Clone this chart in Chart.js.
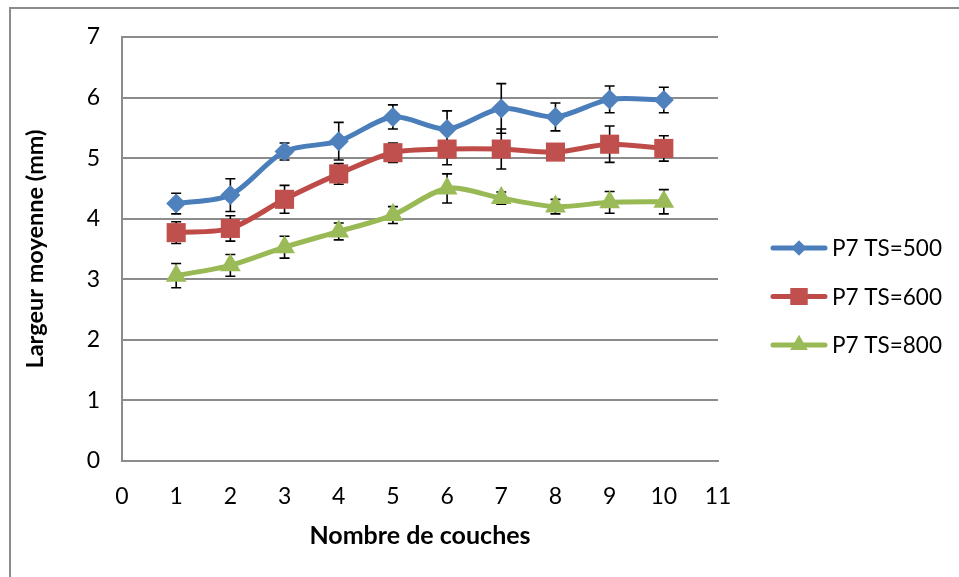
<!DOCTYPE html>
<html>
<head>
<meta charset="utf-8">
<script src="https://cdn.jsdelivr.net/npm/chart.js@4.4.1/dist/chart.umd.min.js"></script>
<style>
  html, body { margin: 0; padding: 0; background: #fff; overflow: hidden; }
  #wrap { position: relative; width: 959px; height: 577px; }
  #frame { position: absolute; left: 9px; top: 7px; width: 960px; height: 590px;
           border-left: 2px solid #8c8c8c; border-top: 2px solid #8c8c8c; pointer-events: none; }
  canvas { position: absolute; left: 0; top: 0; }
</style>
</head>
<body>
<div id="wrap">
  <canvas id="c" width="959" height="577"></canvas>
  <div id="frame"></div>
</div>
<script>
// ---- data ----
const layers = [1, 2, 3, 4, 5, 6, 7, 8, 9, 10];
const seriesNames = ["P7 TS=500", "P7 TS=600", "P7 TS=800"];
const ts500 = [4.25, 4.39, 5.11, 5.28, 5.68, 5.48, 5.82, 5.68, 5.97, 5.96];
const ts500Err = [0.17, 0.27, 0.14, 0.31, 0.20, 0.30, 0.41, 0.23, 0.22, 0.21];
const ts600 = [3.77, 3.84, 4.32, 4.74, 5.09, 5.15, 5.15, 5.10, 5.23, 5.16];
const ts600Err = [0.18, 0.21, 0.23, 0.17, 0.16, 0.26, 0.33, 0.08, 0.30, 0.21];
const ts800 = [3.06, 3.23, 3.53, 3.79, 4.06, 4.50, 4.34, 4.20, 4.27, 4.28];
const ts800Err = [0.20, 0.18, 0.18, 0.14, 0.14, 0.24, 0.10, 0.12, 0.18, 0.20];
const xTicks = [0, 1, 2, 3, 4, 5, 6, 7, 8, 9, 10, 11];
const yTicks = [0, 1, 2, 3, 4, 5, 6, 7];
const xTitle = "Nombre de couches";
const yTitle = "Largeur moyenne (mm)";

const FONT = "Lato";
const styles = [
  { line: "#4A7EBB", fill: "#4F81BD", point: "rectRot", r: 10, lr: 7.5 },
  { line: "#BE4B48", fill: "#C0504D", point: "rect", r: 13.5, lr: 12 },
  { line: "#98B954", fill: "#9BBB59", point: "triangle", r: 12, lr: 10 }
];
const values = [ts500, ts600, ts800];
const errors = [ts500Err, ts600Err, ts800Err];

const datasets = values.map((vals, i) => ({
  label: seriesNames[i],
  data: layers.map((x, j) => ({ x: x, y: vals[j] })),
  errs: errors[i],
  showLine: true,
  borderColor: styles[i].line,
  borderWidth: 5,
  tension: 0.3,
  pointStyle: styles[i].point,
  pointRadius: styles[i].r,
  pointHoverRadius: styles[i].r,
  pointBackgroundColor: styles[i].fill,
  pointBorderColor: styles[i].fill,
  pointBorderWidth: 0
}));

const errorBars = {
  id: "errorBars",
  beforeDatasetsDraw(chart) {
    const ctx = chart.ctx;
    const xs = chart.scales.x, ys = chart.scales.y;
    ctx.save();
    ctx.strokeStyle = "#000";
    ctx.lineWidth = 1.6;
    chart.data.datasets.forEach(ds => {
      ds.data.forEach((p, j) => {
        const e = ds.errs[j];
        const px = xs.getPixelForValue(p.x);
        const y1 = ys.getPixelForValue(p.y + e);
        const y2 = ys.getPixelForValue(p.y - e);
        ctx.beginPath();
        ctx.moveTo(px, y1); ctx.lineTo(px, y2);
        ctx.moveTo(px - 5, y1); ctx.lineTo(px + 5, y1);
        ctx.moveTo(px - 5, y2); ctx.lineTo(px + 5, y2);
        ctx.stroke();
      });
    });
    ctx.restore();
  }
};

const customLegend = {
  id: "customLegend",
  afterDraw(chart) {
    const ctx = chart.ctx;
    ctx.save();
    chart.data.datasets.forEach((ds, i) => {
      const y = 248 + i * 48.5;
      ctx.strokeStyle = styles[i].line;
      ctx.lineWidth = 5;
      ctx.lineCap = "round";
      ctx.beginPath();
      ctx.moveTo(773, y); ctx.lineTo(825, y);
      ctx.stroke();
      ctx.fillStyle = styles[i].fill;
      Chart.helpers.drawPoint(ctx, { pointStyle: styles[i].point, radius: styles[i].lr, borderWidth: 0, rotation: 0 }, 799, y);
      ctx.fill();
      ctx.fillStyle = "#000";
      ctx.font = "22.5px " + FONT;
      ctx.textBaseline = "middle";
      ctx.textAlign = "left";
      ctx.fillText(ds.label, 832, y + 1);
    });
    ctx.restore();
  }
};

new Chart(document.getElementById("c"), {
  type: "scatter",
  data: { datasets: datasets },
  options: {
    responsive: false,
    animation: false,
    layout: { padding: { left: 0, right: 241, top: 37, bottom: 0 } },
    plugins: { legend: { display: false }, tooltip: { enabled: false } },
    scales: {
      x: {
        type: "linear", min: 0, max: 11,
        afterBuildTicks(s) { s.ticks = xTicks.map(v => ({ value: v })); },
        afterFit(s) { s.height = 116; },
        grid: { display: false, drawTicks: false },
        border: { display: true, color: "#8c8c8c", width: 2 },
        ticks: { color: "#000", font: { family: FONT, size: 23 }, padding: 22, maxRotation: 0 },
        title: { display: true, text: xTitle, color: "#000",
                 font: { family: FONT, size: 25, weight: "bold" }, padding: { top: 0, bottom: 26 } }
      },
      y: {
        type: "linear", min: 0, max: 7,
        afterBuildTicks(s) { s.ticks = yTicks.map(v => ({ value: v })); },
        afterFit(s) { s.width = 122; },
        grid: { display: true, color: "#8c8c8c", lineWidth: 2, drawTicks: false },
        border: { display: true, color: "#8c8c8c", width: 2 },
        ticks: { color: "#000", font: { family: FONT, size: 23 }, padding: 22 },
        title: { display: true, text: yTitle, color: "#000",
                 font: { family: FONT, size: 23.5, weight: "bold" }, padding: { top: 21, bottom: 0 } }
      }
    }
  },
  plugins: [errorBars, customLegend]
});
</script>
</body>
</html>
